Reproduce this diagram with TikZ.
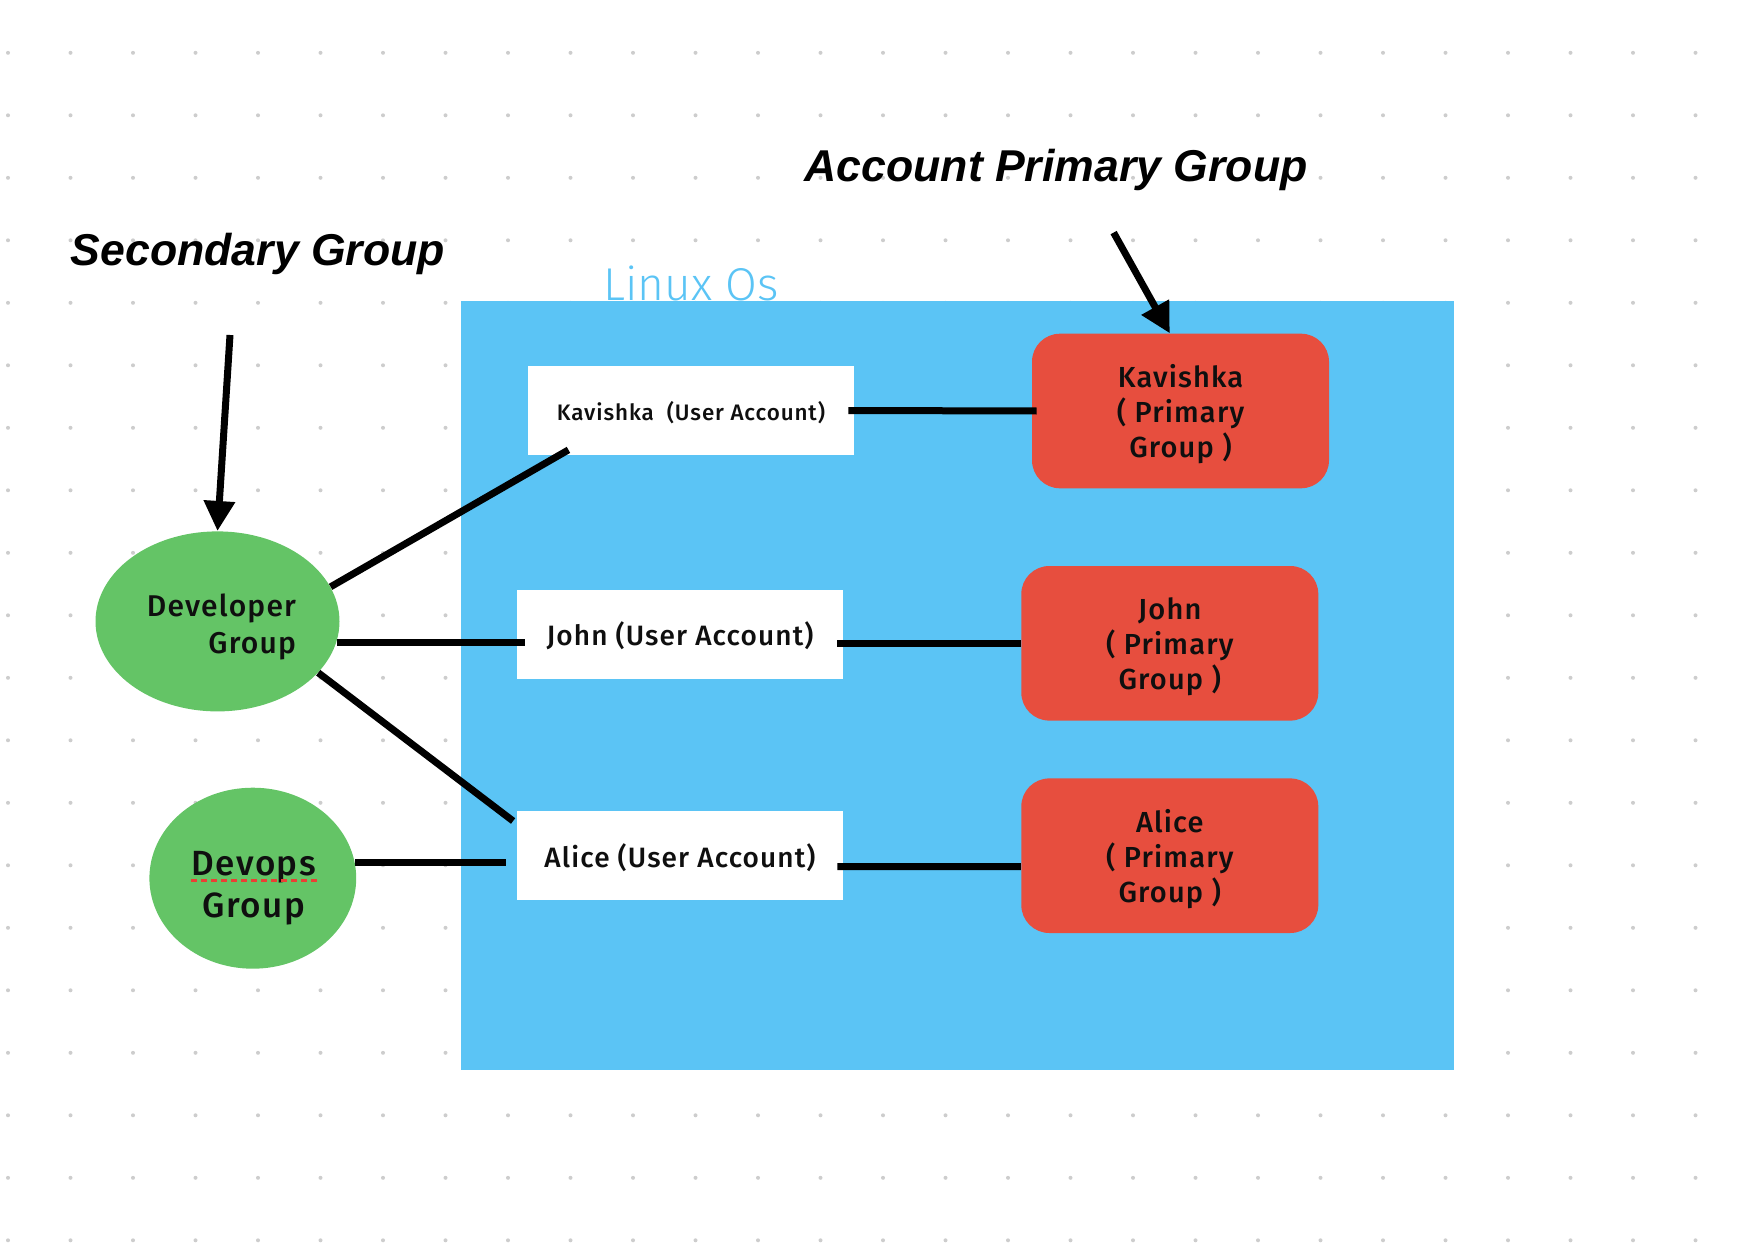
\documentclass[tikz,border=0pt]{standalone}
\usepackage{fontspec}
\setmainfont{Liberation Sans}
\newfontfamily\medfont{Fira Sans Medium}[LetterSpace=4]
\newfontfamily\lightfont{Fira Sans Light}
\usetikzlibrary{shapes.geometric, arrows.meta, positioning, calc}
\definecolor{linuxblue}{RGB}{91, 196, 245}
\definecolor{groupgreen}{RGB}{100, 196, 102}
\definecolor{primaryred}{RGB}{231, 78, 62}
\definecolor{gridgray}{RGB}{205, 205, 205}
\definecolor{spellred}{RGB}{235, 64, 52}
\definecolor{inkblack}{RGB}{15, 15, 15}

\tikzset{
  heading/.style={text=black, inner sep=0pt, text depth=0pt, font=\bfseries\itshape\fontsize{22.3}{26}\selectfont},
  useracct/.style={fill=white, minimum width=163pt, minimum height=44.5pt, inner sep=0pt, text depth=0pt, text=inkblack},
  primgroup/.style={fill=primaryred, rounded corners=14pt, minimum width=148.5pt, minimum height=77.3pt, inner sep=0pt, align=center, text depth=0pt, text=inkblack, font=\medfont\fontsize{14.5}{17.5}\selectfont},
  secgroup/.style={ellipse, fill=groupgreen, inner sep=0pt},
  grouptext/.style={inner sep=0pt, text=inkblack},
  link/.style={line width=3.5pt},
  pointer/.style={line width=3.5pt, -{Triangle[length=15pt, width=15pt]}}
}

\begin{document}
        \begin{tikzpicture}[x=0.5pt, y=-0.5pt]
            \useasboundingbox (0,0) rectangle (1762,1246);
            \foreach \gx in {0,...,27}
                \foreach \gy in {0,...,19}
                    \fill[gridgray] (8+62.5*\gx, 52.8+62.5*\gy) circle (1pt);

            \node[fill=linuxblue, minimum width=496.6pt, minimum height=384.5pt, inner sep=0pt] (linuxos) at (957.4,685.5) {};
            \node[text=linuxblue, inner sep=0pt, text depth=0pt, font=\lightfont\fontsize{23}{26}\selectfont] (oslabel) at (691,283) {Linux Os};

            \node[heading] (sectitle) at (258,249) {Secondary Group};
            \node[heading] (primtitle) at (1056,165) {Account Primary Group};

            \node[useracct, font=\medfont\fontsize{11.2}{14}\selectfont] (kavuser) at (691,410.5) {Kavishka\ \ (User Account)};
            \node[useracct, font=\medfont\fontsize{14}{16}\selectfont] (johnuser) at (680,634) {John (User Account)};
            \node[useracct, font=\medfont\fontsize{14}{16}\selectfont] (aliceuser) at (680,855.5) {Alice (User Account)};

            \node[primgroup] (kavprim) at (1180.5,411) {Kavishka\\( Primary\\Group )};
            \node[primgroup] (johnprim) at (1169.8,643.3) {John\\( Primary\\Group )};
            \node[primgroup] (aliceprim) at (1169.8,855.7) {Alice\\( Primary\\Group )};

            \node[secgroup, minimum width=122pt, minimum height=90pt] (devgroup) at (217.5,621.4) {};
            \node[grouptext, align=right, font=\medfont\fontsize{15}{18.5}\selectfont] (devtext) at ($(devgroup.center)+(4,6)$) {Developer\\Group};
            \node[secgroup, minimum width=103.4pt, minimum height=90.5pt] (opsgroup) at (252.8,878.2) {};
            \node[grouptext, align=center, font=\medfont\fontsize{17.5}{21.3}\selectfont] (opstext) at ($(opsgroup.center)+(1,10)$) {Devops\\Group};
            \draw[spellred, line width=1.5pt, dash pattern=on 3pt off 2pt] ($(opsgroup.center)+(-62,2)$) -- ($(opsgroup.center)+(64,2)$);

            \draw[link] (devgroup.17) -- ($(kavuser.south west)!0.125!(kavuser.south east)+(0,-5.5)$);
            \draw[link] (devgroup.-10) -- ($(devgroup.-10 -| johnuser.west)+(8,0)$);
            \draw[link] (devgroup.-27) -- ($(aliceuser.north west)+(-3.5,10.4)$);
            \draw[link] (opsgroup.9) -- ($(opsgroup.9 -| aliceuser.west)+(-11,0)$);

            \draw[link] ($(kavuser.east)+(-6,0)$) -- ($(kavprim.west)+(5,0)$);
            \draw[link] ($(johnprim.west -| johnuser.east)+(-6,0)$) -- (johnprim.west);
            \draw[link] ($(aliceuser.east)+(-6,11)$) -- ($(aliceprim.west)+(0,11)$);

            \coordinate (secfrom) at (230,335);
            \coordinate (primfrom) at (1113.6,232.6);
            \draw[pointer] (secfrom) -- (devgroup.north);
            \draw[pointer] (primfrom) -- ($(kavprim.north)+(-10.7,0)$);
        \end{tikzpicture}
\end{document}
